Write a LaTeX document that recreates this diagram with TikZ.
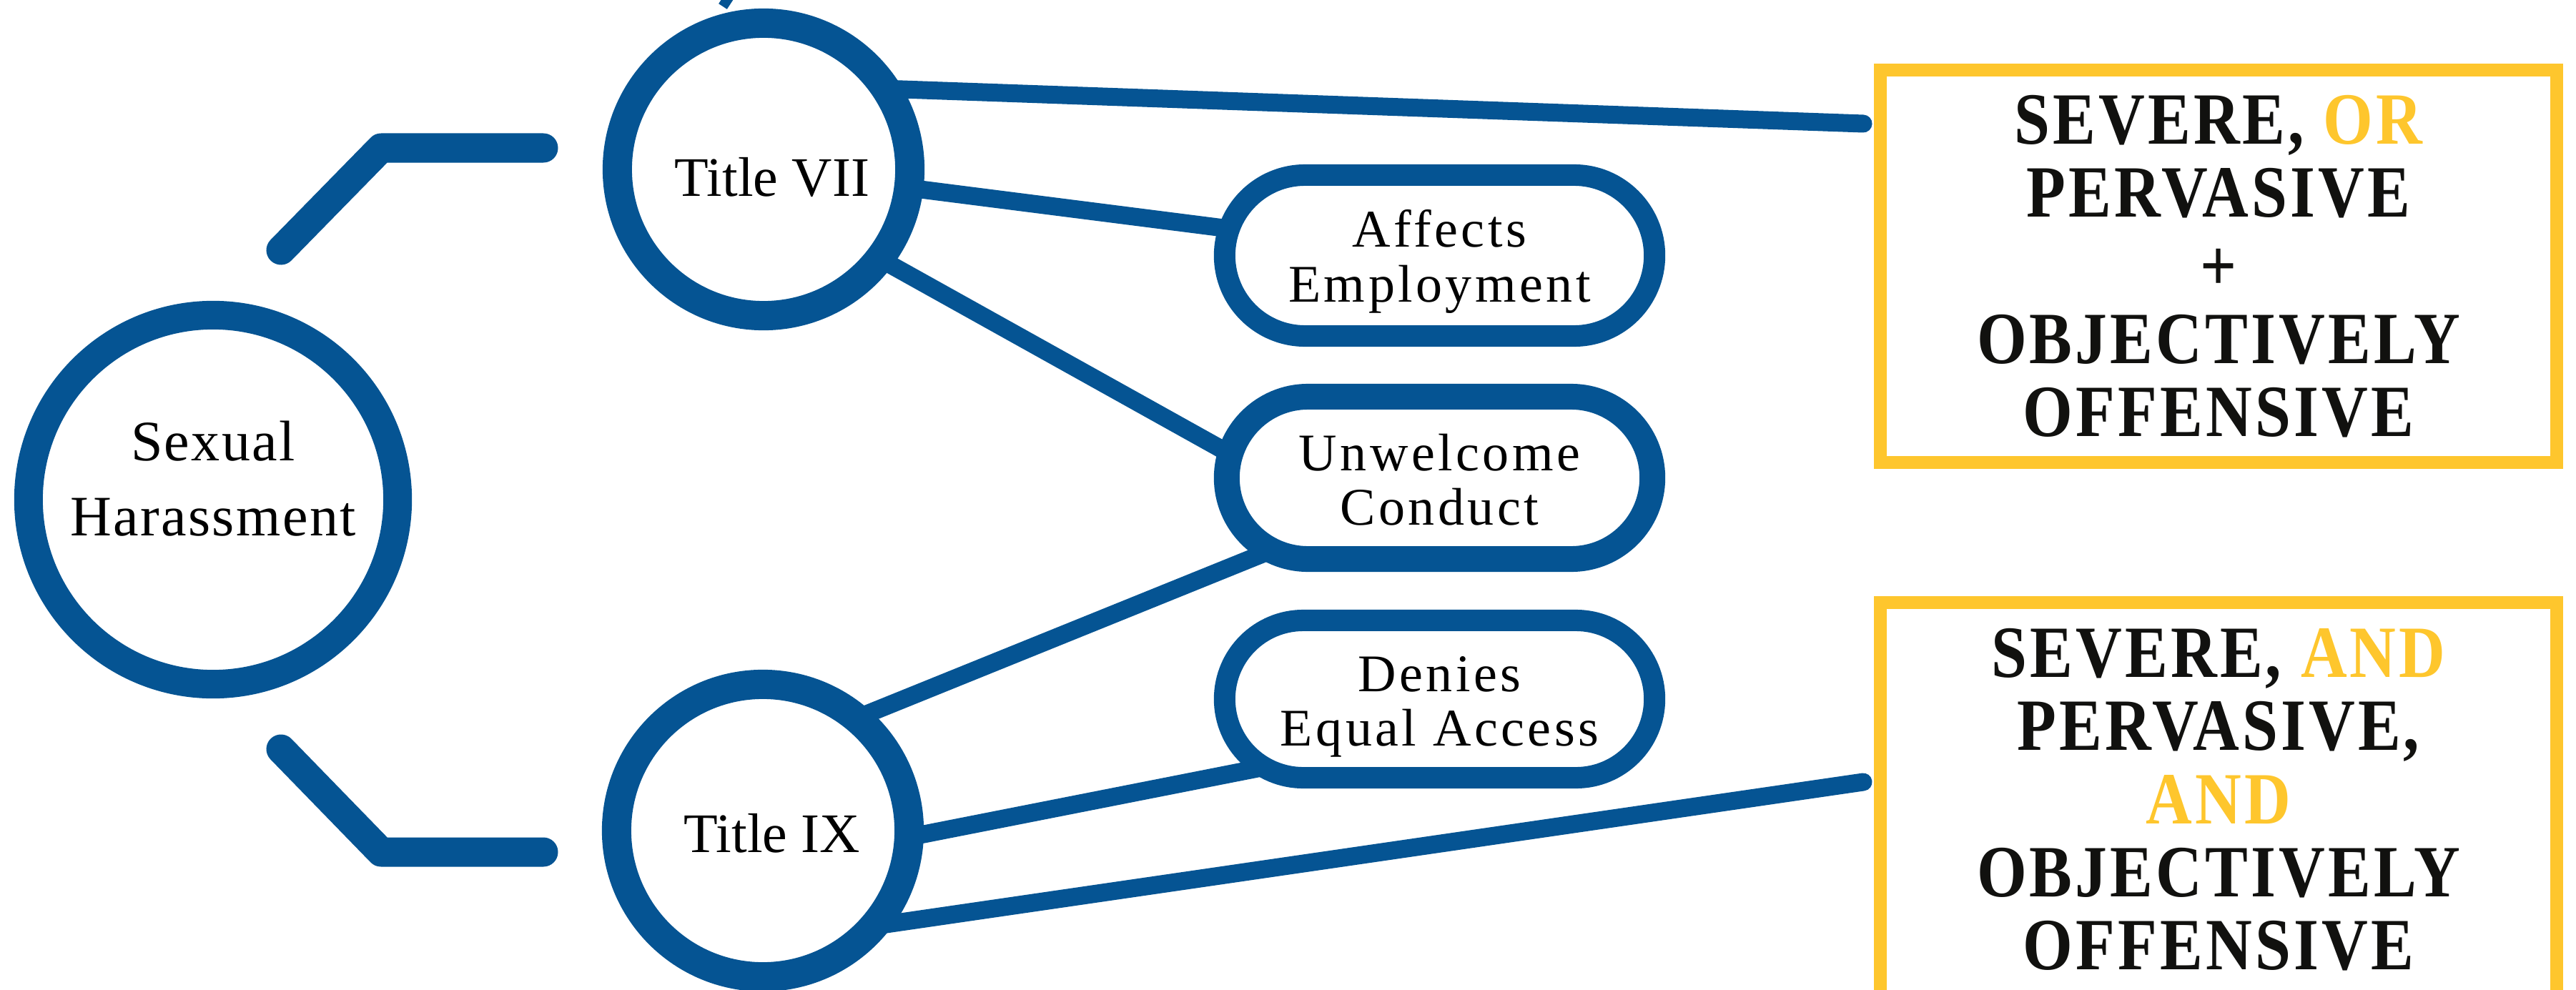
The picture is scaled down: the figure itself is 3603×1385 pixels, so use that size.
\documentclass[tikz,border=0pt]{standalone}
\usepackage{fontspec}
\setmainfont{Liberation Serif}
\newfontfamily\pillfont{Liberation Serif}[LetterSpace=6]
\newfontfamily\shfont{Liberation Serif}[LetterSpace=3]
\newfontfamily\boxfont{Liberation Serif}[FakeStretch=0.87,LetterSpace=4]
\usetikzlibrary{shapes.misc,backgrounds,calc}
\definecolor{tblue}{RGB}{5,84,147}
\definecolor{tgold}{RGB}{254,198,45}
\definecolor{tink}{RGB}{17,17,15}
\begin{document}
\begin{tikzpicture}[x=0.01cm,y=-0.01cm,
  ring/.style={circle, draw=tblue, fill=white, inner sep=0pt},
  titletext/.style={font=\fontsize{0.78cm}{0.8cm}\selectfont},
  pill/.style={rounded rectangle, draw=tblue, fill=white, line width=0.30cm,
    minimum width=6.01cm, minimum height=2.25cm, inner sep=0pt, align=center,
    font=\pillfont\fontsize{0.74cm}{0.76cm}\selectfont},
  gbox/.style={rectangle, draw=tgold, line width=0.18cm, minimum width=9.46cm,
    inner sep=0pt, align=center, text=tink,
    font=\boxfont\bfseries\fontsize{1.03cm}{1.02cm}\selectfont},
  bracket/.style={draw=tblue, line width=0.41cm, line cap=round, line join=round},
  conn/.style={draw=tblue, line width=0.25cm, line cap=round}]
\useasboundingbox (0,0) rectangle (3603,1385);

% circles
\node[ring, line width=0.40cm, minimum size=5.16cm, align=center,
  font=\shfont\fontsize{0.80cm}{1.04cm}\selectfont] (sh) at (298,699)
  {\rule{0pt}{0.60cm}Sexual\\Harassment\rule[-0.64cm]{0pt}{0.64cm}};
\node[ring, line width=0.41cm, minimum size=4.09cm, titletext] (t7) at (1068,237)
  {\hspace*{0.24cm}\rule{0pt}{0.84cm}Title VII\rule[-0.1cm]{0pt}{0.1cm}};
\node[ring, line width=0.41cm, minimum size=4.09cm, titletext] (t9) at (1067,1162)
  {\hspace*{0.26cm}\rule{0pt}{0.70cm}Title IX\rule[-0.1cm]{0pt}{0.1cm}};

% pills
\node[pill] (ae) at (2013.5,357.5)
  {\rule{0pt}{0.73cm}Affects\\Employment\rule[-0.2cm]{0pt}{0.2cm}};
\node[pill, line width=0.36cm, minimum width=5.95cm, minimum height=2.27cm] (uc) at (2013.5,668.5)
  {\rule{0pt}{0.75cm}Unwelcome\\Conduct\rule[-0.2cm]{0pt}{0.2cm}};
\node[pill, minimum height=2.20cm] (de) at (2013.5,978)
  {\rule{0pt}{0.74cm}Denies\\Equal Access\rule[-0.2cm]{0pt}{0.2cm}};

% gold boxes
\node[gbox, minimum height=5.49cm] (b1) at (3103,372.5)
  {\rule{0pt}{0.77cm}SEVERE, {\color{tgold}OR}\\PERVASIVE\\+\\OBJECTIVELY\\OFFENSIVE\rule[-0.1cm]{0pt}{0.1cm}};
\node[gbox, minimum height=5.57cm] (b2) at (3103,1121.5)
  {\rule{0pt}{0.71cm}SEVERE, {\color{tgold}AND}\\PERVASIVE,\\{\color{tgold}AND}\\OBJECTIVELY\\OFFENSIVE\rule[-0.1cm]{0pt}{0.1cm}};

% free ends
\coordinate (e1) at (2606,173);
\coordinate (e2) at (2606,1094);
\coordinate (u1) at (393,350);
\coordinate (u2) at (533,207);
\coordinate (u3) at (760,207);
\coordinate (l1) at (393,1048);
\coordinate (l2) at (533,1192);
\coordinate (l3) at (760,1192);
\coordinate (f1) at (1011,9);
\coordinate (f2) at (1028,-17);

% brackets
\draw[bracket] (u1) -- (u2) -- (u3);
\draw[bracket] (l1) -- (l2) -- (l3);
\draw[draw=tblue, line width=0.14cm] (f1) -- (f2);

% connectors
\begin{scope}[on background layer]
\draw[conn] ($(t7.center)+(82,-116)$) -- (e1);
\draw[conn] (t7.center) -- (ae.center);
\draw[conn] ($(t7.center)+(132,108)$) -- ($(uc.center)+(-233,0)$);
\draw[conn] ($(t9.center)+(113,-150)$) -- ($(uc.center)+(-193.5,84.5)$);
\draw[conn] ($(t9.center)+(83,33)$) -- ($(de.center)+(-193.5,85)$);
\draw[conn] ($(t9.center)+(83,144)$) -- (e2);
\end{scope}
\end{tikzpicture}
\end{document}
